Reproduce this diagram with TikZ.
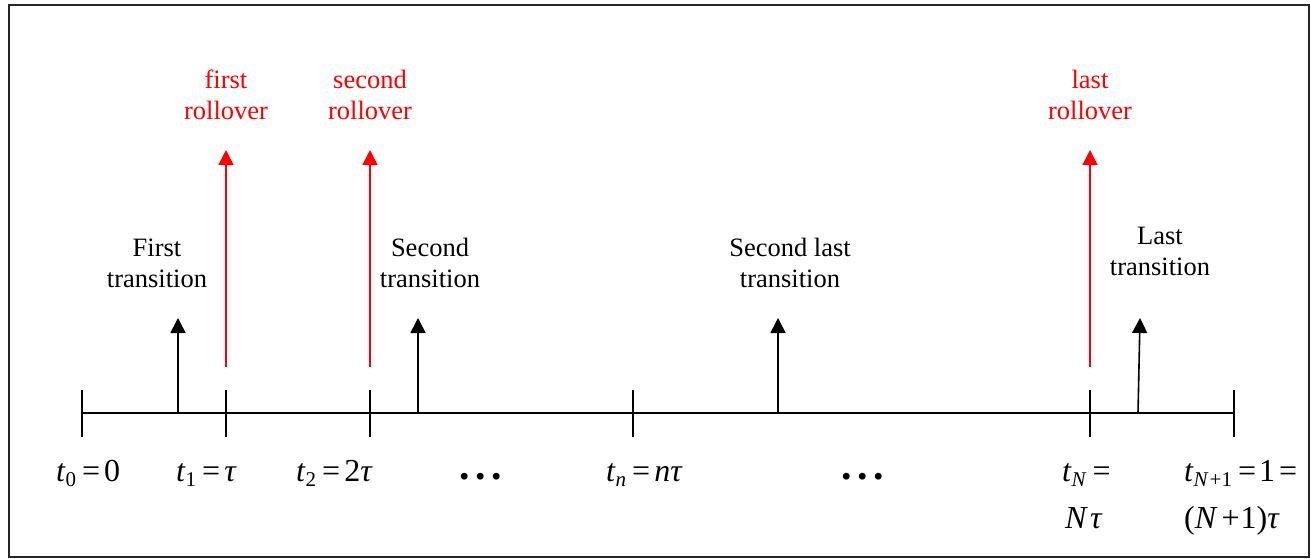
\documentclass[tikz,border=0pt]{standalone}
\usepackage{fontspec}
\setmainfont{Liberation Serif}
\usetikzlibrary{arrows.meta}
\newcommand\lsub[1]{\raisebox{-5.5pt}{\fontsize{21}{21}\selectfont #1}}
\newcommand\myeq{\hspace{6pt}=\hspace{4pt}}
\newcommand\mydots{\fontsize{42}{42}\bfseries .\hspace{5.5pt}.\hspace{5.5pt}.}
\tikzset{
  lbl/.style={align=center,inner sep=0pt,font=\fontsize{26.5}{31}\selectfont},
  redlbl/.style={lbl,text=red},
  mlbl/.style={inner sep=0pt,anchor=base west,font=\fontsize{32}{36}\selectfont},
  dotlbl/.style={inner sep=0pt,anchor=base},
  axisline/.style={line width=1.6pt},
  tickline/.style={line width=1.6pt},
  blackarr/.style={line width=1.6pt,-{Triangle[width=15pt,length=15pt]}},
  redarr/.style={line width=1.6pt,red,-{Triangle[width=15pt,length=15pt]}}
}
\begin{document}
\begin{tikzpicture}[x=1pt,y=-1pt]
\useasboundingbox (0,0) rectangle (1311,559);
\draw[line width=2pt,black!85] (9,5) rectangle (1309,557);
% axis
\coordinate (k0) at (82,413);
\coordinate (k1) at (226,413);
\coordinate (k2) at (370,413);
\coordinate (kn) at (633,413);
\coordinate (kN) at (1090,413);
\coordinate (kE) at (1234,413);
\draw[axisline] (k0) -- (kE);
\foreach \k in {k0,k1,k2,kn,kN,kE}
  \draw[tickline] (\k) ++(0,-23) -- ++(0,47);
% black transition arrows
\coordinate (b1) at (178,413); \coordinate (e1) at (178,318);
\coordinate (b2) at (418,413); \coordinate (e2) at (418,318);
\coordinate (b3) at (778,413); \coordinate (e3) at (778,318);
\coordinate (b4) at (1138,413); \coordinate (e4) at (1140,318);
\draw[blackarr] (b1) -- (e1);
\draw[blackarr] (b2) -- (e2);
\draw[blackarr] (b3) -- (e3);
\draw[blackarr] (b4) -- (e4);
% red rollover arrows
\coordinate (r1) at (226,367); \coordinate (s1) at (226,150);
\coordinate (r2) at (370,367); \coordinate (s2) at (370,150);
\coordinate (r3) at (1090,367); \coordinate (s3) at (1090,150);
\draw[redarr] (r1) -- (s1);
\draw[redarr] (r2) -- (s2);
\draw[redarr] (r3) -- (s3);
% rollover labels
\node[redlbl] (l1) at (226,95) {first\\rollover};
\node[redlbl] (l2) at (370,95) {second\\rollover};
\node[redlbl] (l3) at (1090,95) {last\\rollover};
% transition labels
\node[lbl] (t1) at (157,263) {First\\transition};
\node[lbl] (t2) at (430,263) {Second\\transition};
\node[lbl] (t3) at (790,263) {Second last\\transition};
\node[lbl] (t4) at (1160,251) {Last\\transition};
% time labels
\node[mlbl] (m0) at (56,481) {\textit{t}\lsub{0}\myeq 0};
\node[mlbl] (m1) at (176,481) {\textit{t}\lsub{1}\myeq\textit{τ}};
\node[mlbl] (m2) at (296,481) {\textit{t}\lsub{2}\myeq 2\textit{τ}};
\node[dotlbl] (d1) at (481,479) {\mydots};
\node[mlbl] (mn) at (606,481) {\textit{t}\lsub{\textit{n}}\myeq\textit{nτ}};
\node[dotlbl] (d2) at (863,479) {\mydots};
\node[mlbl] (mN) at (1062,481) {\textit{t}\lsub{\textit{N}}\myeq};
\node[mlbl] (mN2) at (1065,528) {\textit{N}\hspace{2pt}\textit{τ}};
\node[mlbl] (mE) at (1184,481) {\textit{t}\lsub{\textit{N}\hspace{1pt}+1}\hspace{6pt}=\hspace{3pt}1\hspace{4pt}=};
\node[mlbl] (mE2) at (1184,528) {(\textit{N}\hspace{4pt}+\hspace{1pt}1)\textit{τ}};
\end{tikzpicture}
\end{document}
